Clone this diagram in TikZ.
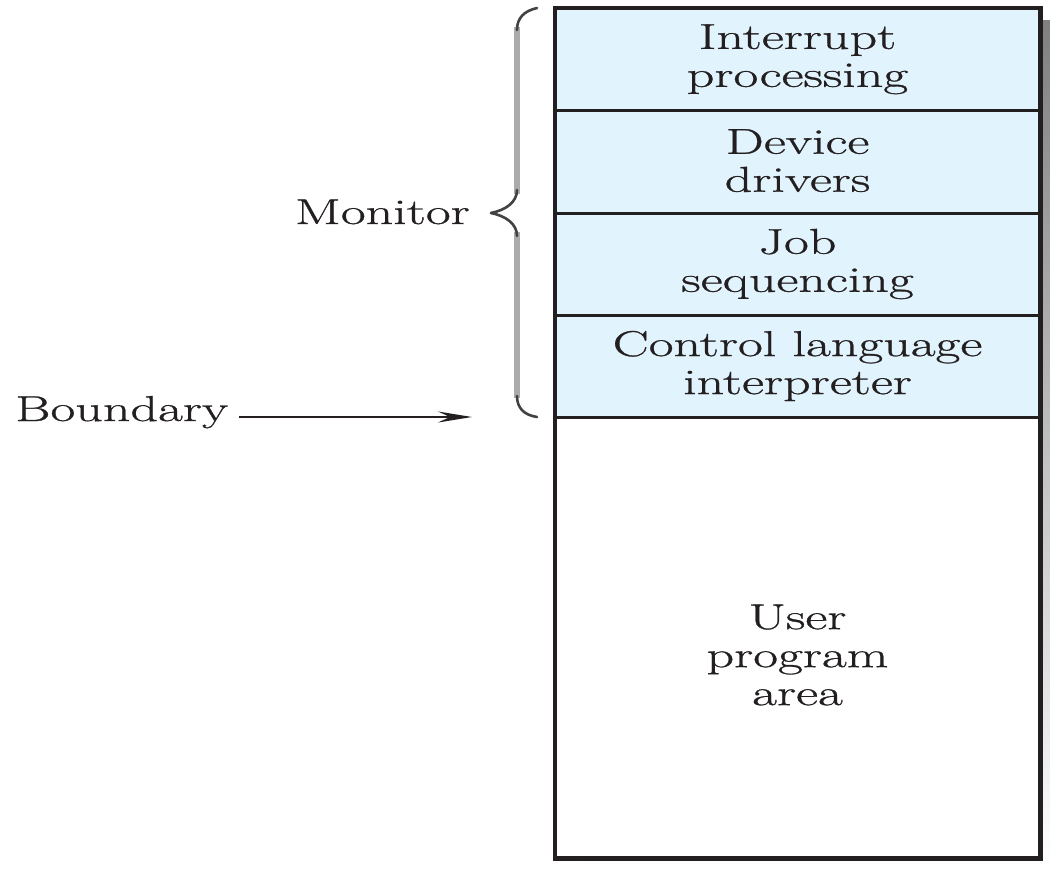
\documentclass[tikz,border=0pt]{standalone}
\usepackage{fontspec}
\setmainfont{Latin Modern Roman}[FakeStretch=1.5, FakeBold=0.8]
\usetikzlibrary{arrows.meta}
\definecolor{ink}{HTML}{231F20}
\definecolor{layer}{HTML}{E1F3FD}
\definecolor{shade}{HTML}{CFD0D2}
\definecolor{bracegrey}{HTML}{ABABAB}
\tikzset{
  x=1pt, y=-1pt,
  txt/.style={font=\fontsize{36}{38}\selectfont, text=ink, align=center, inner sep=0pt},
  cell/.style={txt, draw=ink, line width=3pt, minimum width=484pt},
  monlayer/.style={cell, fill=layer},
  userlayer/.style={cell, fill=white},
  label/.style={txt, inner sep=0pt},
  pointer/.style={draw=ink, line width=2.4pt, -{Stealth[length=34pt, width=11pt, inset=12pt]}},
  bracestem/.style={draw=bracegrey, line width=6pt},
  bracecurl/.style={draw=ink!85, line width=2.6pt, line cap=round},
}
\begin{document}
\begin{tikzpicture}
\useasboundingbox (0,0) rectangle (1050,868);
% drop shadow behind the memory map
\fill[shade] (579,20) rectangle (1050,868);
% memory layers, top to bottom
\node[userlayer, minimum height=440.5pt] (user) at (797.5,637.25) {};
\node[label] (usertxt) at (797.5,655) {User\\program\\area};
\node[monlayer, minimum height=101.5pt] (irq) at (797.5,59.25) {Interrupt\\processing};
\node[monlayer, minimum height=103pt] (dev) at (797.5,161.5) {\raisebox{2pt}{Device}\\\raisebox{2pt}{drivers}};
\node[monlayer, minimum height=102pt] (job) at (797.5,264) {\raisebox{2pt}{Job}\\\raisebox{2pt}{sequencing}};
\node[monlayer, minimum height=102pt] (cli) at (797.5,366) {\raisebox{3pt}{Control language}\\\raisebox{3pt}{interpreter}};
% outer frame redrawn so the corners stay crisp
\draw[ink, line width=3pt] (irq.north west) rectangle (user.south east);
% brace spanning the monitor
\coordinate (btop) at (537,8);
\coordinate (bmid) at (491,213);
\coordinate (bbot) at (537,417);
\draw[bracestem] (517,27) -- (517,194);
\draw[bracestem] (517,232) -- (517,398);
\draw[bracecurl] (btop) .. controls (524,11) and (517,18) .. (517,30);
\draw[bracecurl] (517,190) .. controls (517,202) and (506,210) .. (bmid);
\draw[bracecurl] (bmid) .. controls (506,216) and (517,224) .. (517,236);
\draw[bracecurl] (517,396) .. controls (517,408) and (524,415) .. (bbot);
% labels on the left
\node[label, anchor=base east] (mon) at (470,224) {Monitor};
\node[label, anchor=base west, inner xsep=0pt] (bnd) at (15,421) {Boundary};
\coordinate (tip) at (472,417);
\draw[pointer] ([xshift=11pt]bnd.east |- tip) -- (tip);
\end{tikzpicture}
\end{document}
